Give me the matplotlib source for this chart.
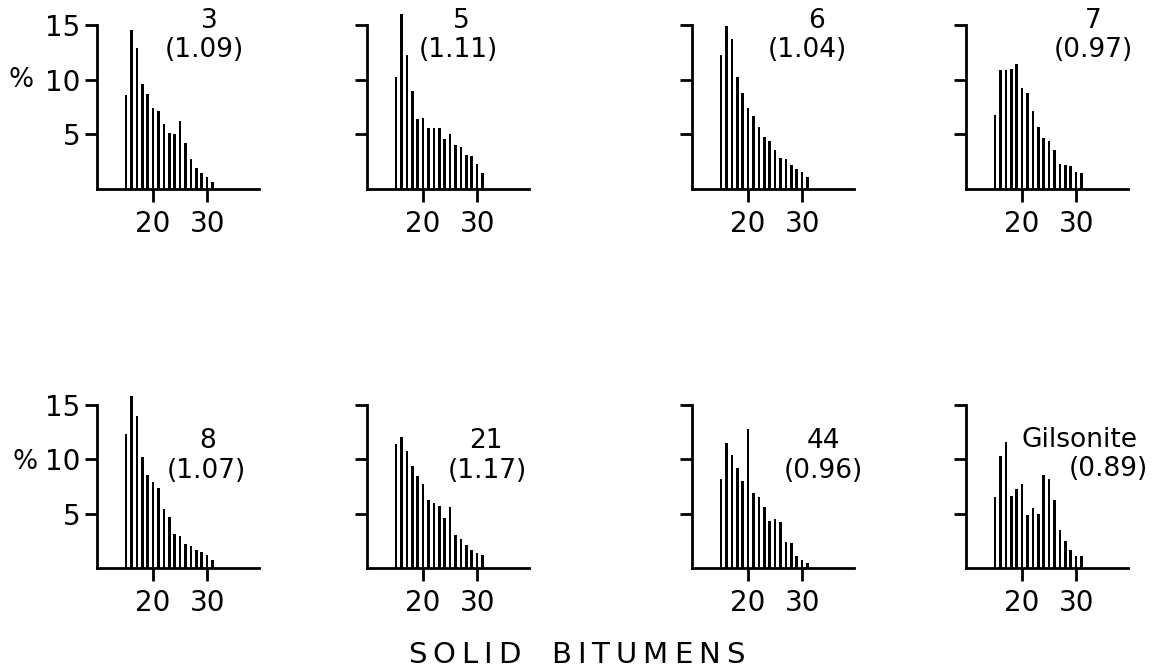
import matplotlib
matplotlib.use("Agg")
import matplotlib.pyplot as plt
import numpy as np

# n-alkane carbon numbers (C15 - C31)
carbon = np.arange(15, 32)

# relative abundance (%) of each n-alkane per sample
s3 = [8.6, 14.5, 12.9, 9.6, 8.7, 7.4, 7.1, 5.9, 5.1, 5.0, 6.2, 4.2, 2.7, 1.9, 1.5, 1.1, 0.6]
s5 = [10.2, 16.0, 12.3, 9.0, 6.4, 6.5, 5.6, 5.6, 5.6, 4.6, 5.0, 4.0, 3.8, 3.1, 3.0, 2.3, 1.5]
s6 = [12.3, 14.9, 13.7, 10.2, 8.8, 7.4, 6.7, 5.7, 4.8, 4.4, 3.6, 2.8, 2.7, 2.2, 1.8, 1.6, 1.1]
s7 = [6.8, 10.9, 10.9, 11.0, 11.4, 9.2, 8.8, 7.1, 5.7, 4.7, 4.4, 3.6, 2.3, 2.2, 2.1, 1.6, 1.5]
s8 = [12.3, 15.8, 14.0, 10.2, 8.6, 7.9, 7.4, 5.4, 4.7, 3.1, 2.9, 2.2, 2.0, 1.7, 1.5, 1.2, 0.7]
s21 = [11.4, 12.1, 10.8, 9.4, 8.5, 7.7, 6.3, 6.0, 5.7, 4.6, 5.6, 3.0, 2.7, 2.1, 1.7, 1.4, 1.2]
s44 = [8.2, 11.5, 10.4, 9.2, 8.0, 12.8, 6.9, 6.5, 5.6, 4.3, 4.5, 4.2, 2.4, 2.3, 1.1, 0.7, 0.5]
gilsonite = [6.5, 10.3, 11.6, 6.6, 7.3, 7.7, 4.9, 5.5, 5.0, 8.6, 8.2, 6.3, 3.5, 2.5, 1.7, 1.1, 1.1]

series = [s3, s5, s6, s7, s8, s21, s44, gilsonite]
names = ["3", "5", "6", "7", "8", "21", "44", "Gilsonite"]
cpi = ["1.09", "1.11", "1.04", "0.97", "1.07", "1.17", "0.96", "0.89"]

x_ticks = [20, 30]
y_ticks = [5, 10, 15]

W, H = 1152, 671
fig = plt.figure(figsize=(W / 100, H / 100), dpi=100)

lefts = [97, 367, 692, 966]
rows = [(25, 189), (405, 568)]
width = 162

# label anchor points (data coords) for sample name and CPI
name_xy = [(30.5, 15.4), (27.0, 15.4), (32.7, 15.4), (33.2, 15.4),
           (30.0, 11.7), (31.6, 11.7), (33.9, 11.7), (30.7, 11.8)]
cpi_xy = [(29.4, 12.7), (26.6, 12.7), (30.9, 12.7), (33.2, 12.7),
          (29.8, 8.9), (31.8, 8.9), (34.0, 8.9), (35.9, 9.1)]

fs = 19
lw = 2.0

for i, vals in enumerate(series):
    r, c = divmod(i, 4)
    top, base = rows[r]
    ax = fig.add_axes([lefts[c] / W, (H - base) / H, width / W, (base - top) / H])
    ax.bar(carbon, vals, width=0.48, color="black", clip_on=False)
    ax.set_xlim(9.6, 39.6)
    ax.set_ylim(0, 15)
    for s in ("top", "right"):
        ax.spines[s].set_visible(False)
    for s in ("left", "bottom"):
        ax.spines[s].set_linewidth(lw)
    ax.set_xticks(x_ticks)
    ax.set_yticks(y_ticks)
    ax.tick_params(axis="both", direction="out", length=9, width=lw,
                   labelsize=20)
    ax.tick_params(axis="x", pad=6)
    ax.tick_params(axis="y", pad=3)
    if c != 0:
        ax.set_yticklabels([])
    ax.text(*name_xy[i], names[i], ha="center", va="center", fontsize=fs)
    ax.text(*cpi_xy[i], f"({cpi[i]})", ha="center", va="center", fontsize=fs)

fig.text(21 / W, 1 - 80 / H, "%", ha="center", va="center", fontsize=fs)
fig.text(25 / W, 1 - 462 / H, "%", ha="center", va="center", fontsize=fs)

# letter-spaced axis caption
caption = "SOLID BITUMENS"
cap_fs = 21
tracking = 6  # extra pixels between letters
renderer = fig.canvas.get_renderer()
widths = []
for ch in caption:
    t = fig.text(0, 0, ch if ch != " " else "n", fontsize=cap_fs)
    bb = t.get_window_extent(renderer)
    widths.append(bb.width)
    t.remove()
total = sum(widths) + tracking * (len(caption) - 1)
x = 576 - total / 2
for ch, w in zip(caption, widths):
    if ch != " ":
        fig.text(x / W, 1 - 655 / H, ch, ha="left", va="center", fontsize=cap_fs)
    x += w + tracking

fig.savefig("out.png", dpi=100)
